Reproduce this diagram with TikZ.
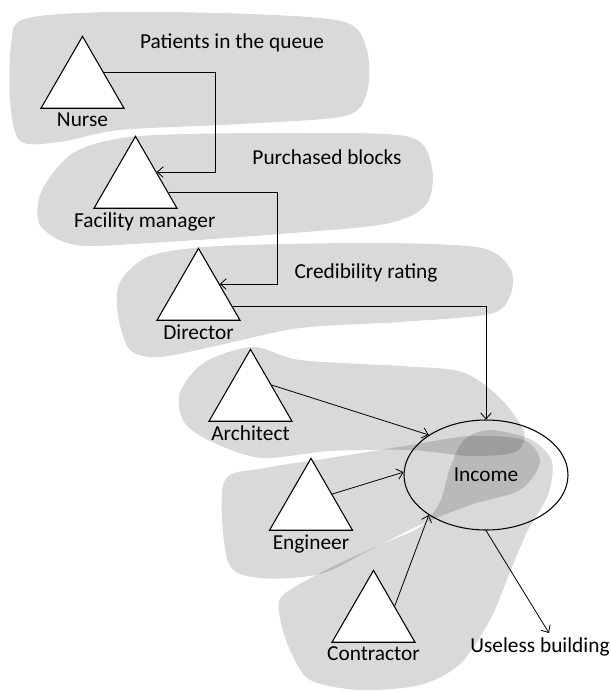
\documentclass[tikz,border=0pt]{standalone}
\usepackage{fontspec}
\setmainfont{Carlito}
\usetikzlibrary{positioning,shapes.geometric,calc,arrows.meta}

\begin{document}
\begin{tikzpicture}[x=0.75pt,y=-0.75pt,
  every node/.style={font=\fontsize{16}{19}\selectfont},
  actor/.style={regular polygon, regular polygon sides=3, draw, fill=white, line width=0.8pt, minimum size=71.9pt, inner sep=0pt},
  role/.style={inner sep=3pt},
  blob/.style={fill=black, fill opacity=0.15},
  flow/.style={-{Straight Barb[length=4.5pt,width=8pt]}, line width=0.6pt}]
  \newcommand\startfrac{0.78}
  \useasboundingbox (0,0) rectangle (610,692);

  % grey areas
  \fill[blob] plot[smooth cycle] coordinates {(11,45) (24,19) (110,12) (250,14) (345,22) (367,50) (367,92) (345,116) (240,124) (120,130) (60,142) (20,141) (10,100)};
  \fill[blob] plot[smooth cycle] coordinates {(42,190) (75,152) (140,136) (300,133) (410,137) (432,168) (426,205) (385,224) (280,234) (150,243) (75,245) (40,225)};
  \fill[blob] plot[smooth cycle] coordinates {(120,282) (150,256) (220,246) (380,243) (482,248) (511,270) (510,296) (490,314) (400,322) (300,328) (220,345) (160,357) (130,350) (118,315)};
  \fill[blob] plot[smooth cycle] coordinates {(180,392) (205,362) (253,347) (300,360) (400,366) (462,372) (500,398) (524,432) (515,452) (470,456) (410,450) (330,451) (262,458) (212,442) (184,422)};
  \fill[blob] plot[smooth cycle] coordinates {(224,482) (265,468) (330,458) (405,446) (470,436) (524,440) (540,462) (520,490) (470,505) (420,525) (370,550) (320,574) (260,578) (228,562)};
  \fill[blob] plot[smooth cycle] coordinates {(283,595) (330,568) (380,545) (420,527) (440,502) (450,468) (464,440) (490,430) (532,440) (552,462) (548,495) (527,532) (510,572) (490,620) (460,664) (420,685) (360,690) (310,680) (290,650) (280,618)};

  \node[actor] (nurse) at (82.5,84.3) {};
  \node[actor] (facility) at (135.5,184.3) {};
  \node[actor] (director) at (198.5,296.3) {};
  \node[actor] (architect) at (250.5,397.3) {};
  \node[actor] (engineer) at (311,506.3) {};
  \node[actor] (contractor) at (373.5,618.3) {};

  \node[role, below=0pt of nurse] (nurselbl) {Nurse};
  \node[role, below=0pt of facility, xshift=7pt] (facilitylbl) {Facility manager};
  \node[role, below=0pt of director] (directorlbl) {Director};
  \node[role, below=0pt of architect] (architectlbl) {Architect};
  \node[role, below=0pt of engineer] (engineerlbl) {Engineer};
  \node[role, below=0pt of contractor] (contractorlbl) {Contractor};

  \node (queue) at (232,43) {Patients in the queue};
  \node (blocks) at (327,157) {Purchased blocks};
  \node (rating) at (366,273) {Credibility rating};

  \node[draw, ellipse, line width=0.8pt, minimum width=123pt, minimum height=82.5pt] (income) at (486,475) {Income};
  \node (useless) at (540,647) {Useless building};

  \draw[flow] (nurse.side 3) -- ++(112,0) |- (facility.side 3);
  \draw[flow] ($(facility.corner 1)!\startfrac!(facility.corner 3)$) -- ++(109,0) |- (director.side 3);
  \draw[flow] ($(director.corner 1)!0.8!(director.corner 3)$) -| (income.north);
  \draw[flow] (architect.side 3) -- (income.145);
  \draw[flow] (engineer.side 3) -- (income.178);
  \draw[flow] (contractor.side 3) -- (income.215);
  \draw[flow] (income.south) -- ([xshift=6.75pt]useless.north);

\end{tikzpicture}
\end{document}
